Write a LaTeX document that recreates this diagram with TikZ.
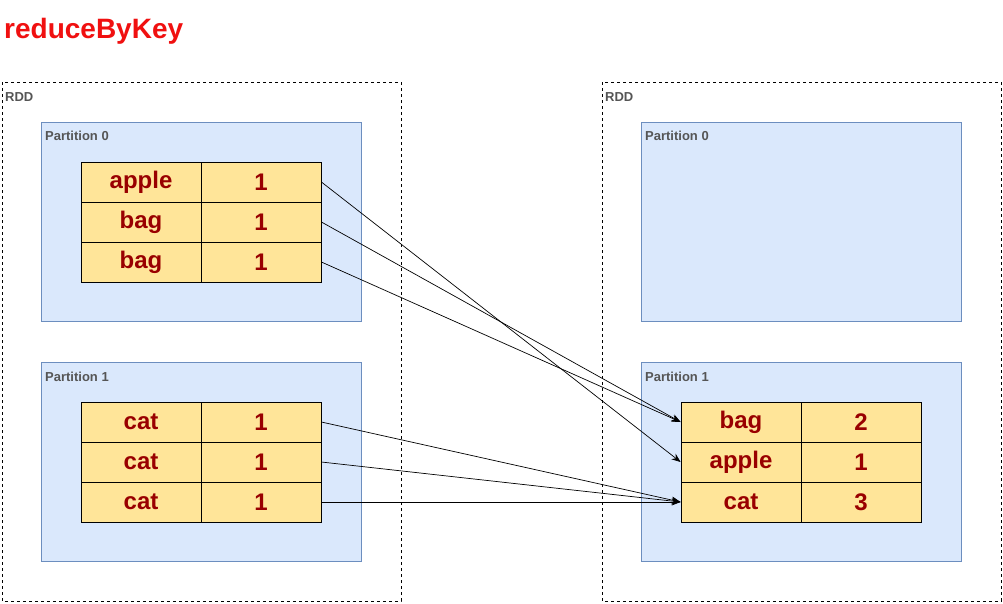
\documentclass[tikz,border=0pt]{standalone}
\usepackage{fontspec}
\setmainfont{Liberation Sans}
\usetikzlibrary{arrows.meta}
\definecolor{partfill}{HTML}{DAE8FC}
\definecolor{partline}{HTML}{6C8EBF}
\definecolor{cellfill}{HTML}{FFE599}
\definecolor{celltext}{HTML}{990000}
\definecolor{labgray}{HTML}{555555}
\definecolor{titlered}{HTML}{F01010}
\tikzset{
  rdd/.style={draw=black, dashed, line width=0.7pt, fill=none},
  part/.style={draw=partline, fill=partfill, line width=0.8pt},
  cell/.style={draw=black, fill=cellfill, line width=0.8pt, minimum width=120pt, minimum height=40pt, inner sep=0pt, anchor=center, text=celltext, font=\fontsize{24}{26}\selectfont\bfseries},
  lab/.style={anchor=west, inner sep=0pt, text=labgray, font=\fontsize{13}{15}\selectfont\bfseries},
  conn/.style={draw=black, line width=0.7pt, -{Stealth[length=9pt,width=7pt]}}
}
\begin{document}
\begin{tikzpicture}[x=1pt,y=-1pt]
\useasboundingbox (0,0) rectangle (1003,603);
\fill[white] (0,0) rectangle (1003,603);
\node[anchor=west, inner sep=0pt, text=titlered, font=\fontsize{28}{30}\selectfont\bfseries] (title) at (4,31) {reduceByKey};
% RDD containers
\draw[rdd] (2,82) rectangle (401,601);
\draw[rdd] (602,82) rectangle (1001,601);
\node[lab] (rddL) at (5,97) {RDD};
\node[lab] (rddR) at (605,97) {RDD};
% partitions
\draw[part] (41,122) rectangle (361,321);
\draw[part] (41,362) rectangle (361,561);
\draw[part] (641,122) rectangle (961,321);
\draw[part] (641,362) rectangle (961,561);
\node[lab] (pL0) at (45,136) {Partition 0};
\node[lab] (pL1) at (45,377) {Partition 1};
\node[lab] (pR0) at (645,136) {Partition 0};
\node[lab] (pR1) at (645,377) {Partition 1};
% left partition 0 cells
\node[cell] (k1) at (141,182) {apple};
\node[cell] (v1) at (261,182) {1};
\node[cell] (k2) at (141,222) {bag};
\node[cell] (v2) at (261,222) {1};
\node[cell] (k3) at (141,262) {bag};
\node[cell] (v3) at (261,262) {1};
% left partition 1 cells
\node[cell] (k4) at (141,422) {cat};
\node[cell] (v4) at (261,422) {1};
\node[cell] (k5) at (141,462) {cat};
\node[cell] (v5) at (261,462) {1};
\node[cell] (k6) at (141,502) {cat};
\node[cell] (v6) at (261,502) {1};
% right partition 1 cells
\node[cell] (rk1) at (741,422) {bag};
\node[cell] (rv1) at (861,422) {2};
\node[cell] (rk2) at (741,462) {apple};
\node[cell] (rv2) at (861,462) {1};
\node[cell] (rk3) at (741,502) {cat};
\node[cell] (rv3) at (861,502) {3};
% connectors
\draw[conn] (v1.east) -- (rk2.west);
\draw[conn] (v2.east) -- (rk1.west);
\draw[conn] (v3.east) -- (rk1.west);
\draw[conn] (v4.east) -- (rk3.west);
\draw[conn] (v5.east) -- (rk3.west);
\draw[conn] (v6.east) -- (rk3.west);
\end{tikzpicture}
\end{document}
